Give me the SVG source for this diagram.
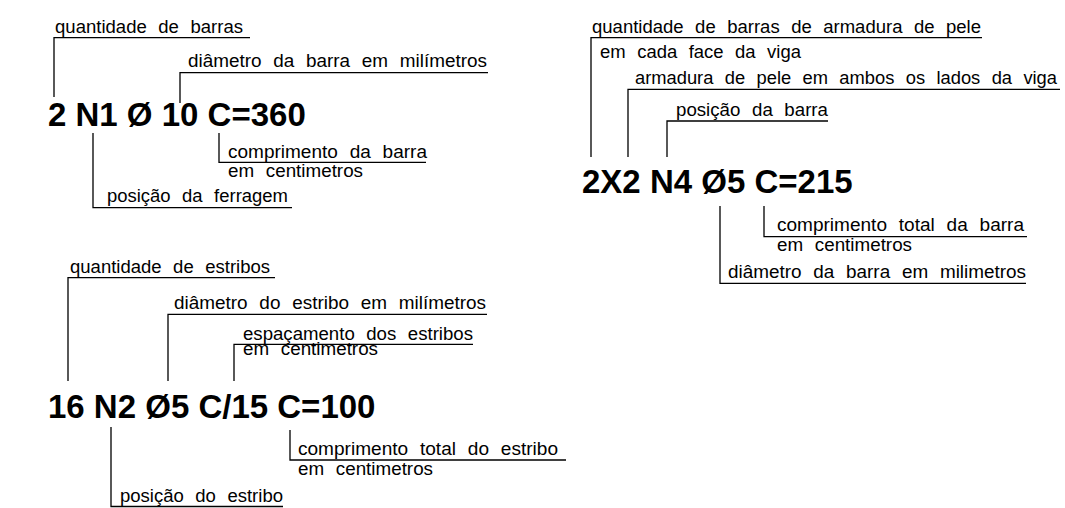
<svg xmlns="http://www.w3.org/2000/svg" width="1065" height="508" viewBox="0 0 1065 508">
<style>
.t{font-family:"Liberation Sans",Arial,sans-serif;font-size:17.5px;word-spacing:6px;fill:#000}
.m{font-family:"Liberation Sans",Arial,sans-serif;font-size:33px;font-weight:bold;fill:#000}
.l{fill:none;stroke:#000;stroke-width:1.3}
</style>
<rect width="1065" height="508" fill="#fff"/>
<g id="connectors">
<polyline class="l" points="54,97 54,37.7 250,37.7"/>
<polyline class="l" points="180,103 180,72.7 488,72.7"/>
<polyline class="l" points="219,133 219,162.3 426,162.3"/>
<polyline class="l" points="93,133 93,207.7 292,207.7"/>
<polyline class="l" points="591,157 591,37.7 982,37.7"/>
<polyline class="l" points="628,157 628,89.3 1060,89.3"/>
<polyline class="l" points="667,157 667,121 828,121"/>
<polyline class="l" points="764,206 764,236.7 1027,236.7"/>
<polyline class="l" points="720,206 720,283.3 1026,283.3"/>
<polyline class="l" points="68,381 68,277.7 275,277.7"/>
<polyline class="l" points="168,381 168,314.3 487,314.3"/>
<polyline class="l" points="234,381 234,344.3 473,344.3"/>
<polyline class="l" points="290,430 290,460 566,460"/>
<polyline class="l" points="111,427 111,506.5 283,506.5"/>
</g>
<g id="node-bar1">
<text class="m" x="48" y="126">2 N1 Ø 10 C=360</text>
<text class="t" x="55" y="33" textLength="188" lengthAdjust="spacingAndGlyphs">quantidade de barras</text>
<text class="t" x="188" y="67" textLength="299" lengthAdjust="spacingAndGlyphs">diâmetro da barra em milímetros</text>
<text class="t" x="228" y="158" textLength="199" lengthAdjust="spacingAndGlyphs">comprimento da barra</text>
<text class="t" x="228" y="177" textLength="135" lengthAdjust="spacingAndGlyphs">em centimetros</text>
<text class="t" x="107" y="202" textLength="181" lengthAdjust="spacingAndGlyphs">posição da ferragem</text>
</g>
<g id="node-bar4">
<text class="m" x="582" y="193">2X2 N4 Ø5 C=215</text>
<text class="t" x="592" y="33" textLength="389" lengthAdjust="spacingAndGlyphs">quantidade de barras de armadura de pele</text>
<text class="t" x="600" y="58" textLength="201" lengthAdjust="spacingAndGlyphs">em cada face da viga</text>
<text class="t" x="635" y="84" textLength="422" lengthAdjust="spacingAndGlyphs">armadura de pele em ambos os lados da viga</text>
<text class="t" x="676" y="116" textLength="152" lengthAdjust="spacingAndGlyphs">posição da barra</text>
<text class="t" x="777" y="231" textLength="247" lengthAdjust="spacingAndGlyphs">comprimento total da barra</text>
<text class="t" x="777" y="251" textLength="135" lengthAdjust="spacingAndGlyphs">em centimetros</text>
<text class="t" x="728" y="278" textLength="298" lengthAdjust="spacingAndGlyphs">diâmetro da barra em milimetros</text>
</g>
<g id="node-stirrup">
<text class="m" x="48" y="418">16 N2 Ø5 C/15 C=100</text>
<text class="t" x="70" y="273" textLength="200" lengthAdjust="spacingAndGlyphs">quantidade de estribos</text>
<text class="t" x="174" y="309" textLength="312" lengthAdjust="spacingAndGlyphs">diâmetro do estribo em milímetros</text>
<text class="t" x="243" y="340" textLength="230" lengthAdjust="spacingAndGlyphs">espaçamento dos estribos</text>
<text class="t" x="243" y="355" textLength="135" lengthAdjust="spacingAndGlyphs">em centimetros</text>
<text class="t" x="298" y="455" textLength="260" lengthAdjust="spacingAndGlyphs">comprimento total do estribo</text>
<text class="t" x="298" y="475" textLength="135" lengthAdjust="spacingAndGlyphs">em centimetros</text>
<text class="t" x="120" y="502" textLength="163" lengthAdjust="spacingAndGlyphs">posição do estribo</text>
</g>
</svg>
